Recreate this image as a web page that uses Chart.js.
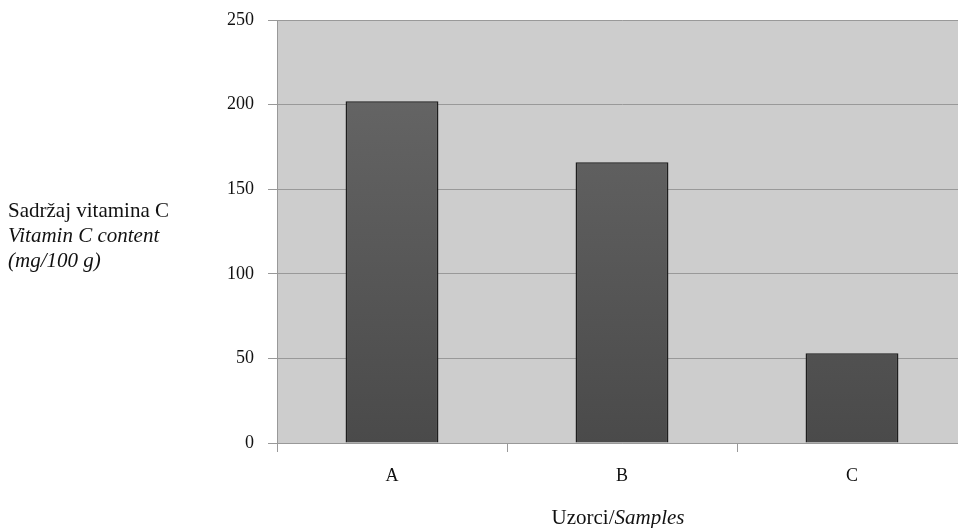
<!DOCTYPE html>
<html>
<head>
    <meta charset="utf-8">
    <title>Vitamin C content</title>
    <script src="https://cdn.jsdelivr.net/npm/chart.js@4/dist/chart.umd.min.js"></script>
    <style>
        body { margin: 0; background: #fff; overflow: hidden; }
        #wrap { position: relative; width: 958px; height: 528px; overflow: hidden; }
        .ttl { position: absolute; font-family: "Liberation Serif", "Times New Roman", serif; font-size: 21px; color: #111; white-space: nowrap; }
        #ytitle { left: 8px; top: 198px; line-height: 25px; }
        #xtitle { left: 0; width: 1236px; top: 505px; line-height: 24px; text-align: center; }
    </style>
</head>
<body>
    <div id="wrap">
        <canvas id="c1" width="970" height="528"></canvas>
        <div id="ytitle" class="ttl">Sadržaj vitamina C<br><i>Vitamin C content</i><br><i>(mg/100 g)</i></div>
        <div id="xtitle" class="ttl">Uzorci/<i>Samples</i></div>
    </div>
    <script>
        var samples = ["A", "B", "C"];
        var vitaminC = [202, 166, 53];
        var yTicks = [0, 50, 100, 150, 200, 250];

        // grey plot background
        var plotBg = {
            id: "plotBg",
            beforeDraw: function(chart) {
                var a = chart.chartArea;
                var ctx = chart.ctx;
                ctx.save();
                ctx.fillStyle = "#cdcdcd";
                ctx.fillRect(a.left, a.top, a.right - a.left, a.bottom - a.top);
                ctx.restore();
            }
        };

        function barFill(context) {
            var chart = context.chart;
            var a = chart.chartArea;
            if (!a) return "#5a5a5a";
            var g = chart.ctx.createLinearGradient(0, a.top, 0, a.bottom);
            g.addColorStop(0, "#6a6a6a");
            g.addColorStop(1, "#4a4a4a");
            return g;
        }

        var ctx = document.getElementById("c1");
        var chart = new Chart(ctx, {
            type: "bar",
            data: {
                labels: samples,
                datasets: [{
                    data: vitaminC,
                    backgroundColor: barFill,
                    borderColor: "#1e1e1e",
                    borderWidth: 1.5,
                    categoryPercentage: 1,
                    barPercentage: 0.404
                }]
            },
            plugins: [plotBg],
            options: {
                responsive: false,
                animation: false,
                layout: { padding: { top: 20, right: 3, left: 0, bottom: 0 } },
                plugins: {
                    legend: { display: false },
                    tooltip: { enabled: false }
                },
                scales: {
                    x: {
                        afterFit: function(s) { s.height = 85; },
                        grid: {
                            offset: true,
                            drawOnChartArea: false,
                            drawTicks: true,
                            tickLength: 9,
                            color: "#999"
                        },
                        border: { color: "#999", width: 1 },
                        ticks: {
                            padding: 13,
                            color: "#111",
                            font: { family: "'Liberation Serif', serif", size: 18 }
                        }
                    },
                    y: {
                        min: 0,
                        max: 250,
                        afterFit: function(s) {
                            s.width = 277;
                            s.paddingTop = 0;
                            s.paddingBottom = 0;
                        },
                        afterBuildTicks: function(s) {
                            s.ticks = yTicks.map(function(v) { return { value: v }; });
                        },
                        grid: {
                            color: "#999",
                            tickLength: 9,
                            lineWidth: 1
                        },
                        border: { color: "#999", width: 1 },
                        ticks: {
                            padding: 14,
                            color: "#111",
                            font: { family: "'Liberation Serif', serif", size: 18 }
                        }
                    }
                }
            }
        });
    </script>
</body>
</html>
